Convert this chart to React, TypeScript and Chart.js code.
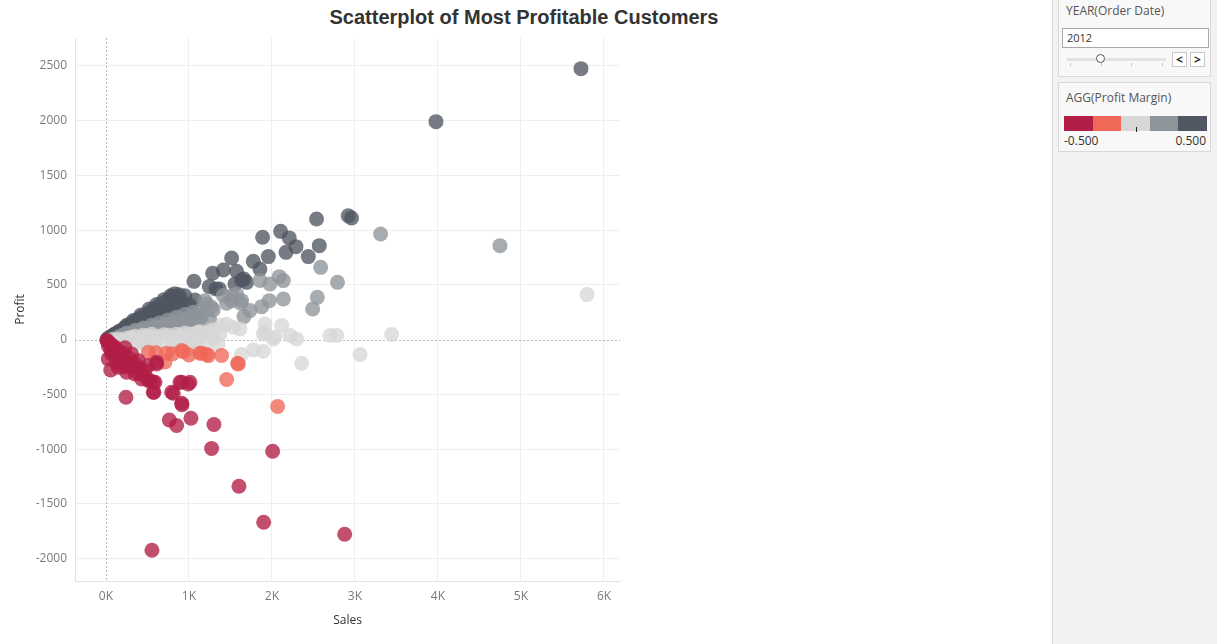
import React, { useEffect, useRef } from "react";
import { Chart, registerables, ChartConfiguration, Plugin } from "chart.js";

Chart.register(...registerables);

// axis ticks
const salesTicks = [0, 1000, 2000, 3000, 4000, 5000, 6000];
const profitTicks = [-2000, -1500, -1000, -500, 0, 500, 1000, 1500, 2000, 2500];

// profit margin colour steps (-0.5 .. 0.5, five steps)
const marginSteps = [-0.3, -0.1, 0.1, 0.3];
const marginColors = ["#b21e46", "#f06858", "#d7d7d7", "#8e959a", "#505662"];
const marginRange = ["-0.500", "0.500"];
const yearValue = "2012";

// [sales, profit] per customer
const largeCustomers: [number, number][] = [
  [5723, 2475], [3976, 1991], [4747, 858], [5795, 411], [3309, 965], [3442, 46],
  [3060, -137], [2790, 523], [2546, 386], [2490, 280], [2587, 660], [2537, 1102],
  [2919, 1132], [2959, 1111], [1887, 935], [2104, 989], [2208, 929], [2289, 849],
  [1956, 758], [2169, 797], [2438, 758], [2570, 858], [1775, 715], [1855, 645],
  [1663, 554], [2088, 575], [2137, 539], [1976, 508], [2137, 371], [1968, 356],
  [1876, 301], [1735, 265], [1634, 356], [1916, 143], [2117, 128], [2217, 37],
  [2297, 6], [2016, 6], [1916, 67], [2699, 37], [2780, 37], [2357, -216],
  [1775, -94], [1895, -107], [1634, -137],
];

const midCustomers: [number, number][] = [
  [1514, 746], [1414, 636], [1285, 606], [1060, 532], [1245, 484], [1325, 463],
  [1634, 545], [1695, 523], [1554, 508], [1855, 540], [1574, 624], [1365, 463],
  [892, 386], [1072, 362], [1213, 326], [1293, 271], [1133, 219], [972, 158],
  [1253, 174], [1414, 402], [1574, 417], [1514, 356], [1623, 332], [1663, 210],
  [1454, 332], [1522, 402], [1193, 356], [1273, 295],
  [1454, 140], [1534, 113], [1614, 98], [1895, 52], [2036, 21], [1373, 52],
  [1253, 82], [1133, 67], [1012, 52], [892, 37], [1112, 67], [1393, 130],
];

const lossCustomers: [number, number][] = [
  [931, -110], [1133, -125], [1213, -135], [1393, -145], [1586, -216], [1454, -365],
  [2068, -610], [1233, -146], [1152, -125], [912, -100], [731, -125], [711, -205],
  [510, -116], [1594, -222], [600, -120], [800, -130], [1000, -140],
  [2008, -1020], [1273, -995], [1301, -776], [1602, -1340], [1900, -1668], [2876, -1778],
  [554, -1924], [241, -527], [763, -734], [851, -785], [1024, -719], [916, -594],
  [811, -490], [911, -390], [992, -405], [1012, -390], [578, -481], [530, -374],
  [590, -390], [611, -222], [57, -277], [68, -131], [189, -161], [310, -131],
  [389, -192], [269, -222], [148, -253], [249, -298], [349, -313], [470, -283],
  [510, -237], [610, -207], [430, -359], [510, -374], [570, -390], [570, -481],
  [791, -481], [892, -390], [912, -582], [28, -176], [108, -70], [229, -75], [10, -8],
  [20, -15], [40, -30], [60, -45], [80, -60], [100, -80], [120, -95], [140, -110],
  [90, -120], [130, -150], [170, -130], [200, -180], [160, -200], [120, -210],
  [210, -250], [250, -200], [300, -250], [280, -170], [350, -220], [400, -260],
  [380, -300], [440, -320], [200, -120], [60, -90], [30, -60],
];

const breakEvenCustomers: [number, number][] = [
  [80, 2], [150, 5], [200, -5], [250, 10], [300, -10], [350, 15], [400, 0], [450, 20],
  [500, -15], [550, 25], [600, 5], [650, 30], [700, -20], [750, 40], [800, 10],
  [850, 50], [900, -30], [950, 60], [1000, 20], [1050, -20], [1100, 60], [1150, 30],
  [1200, -40], [1250, 60], [1300, 10], [1350, -40], [600, -45], [800, -60],
  [1000, -80], [450, -35], [300, 20], [700, 45], [1100, -60], [1300, 90],
  [350, 30], [450, 40], [550, 50], [500, 30], [900, 20], [400, -25], [1050, 50],
];

const profitableCustomers: [number, number][] = [
  // upper margin band
  [15, 6], [30, 13], [45, 19], [60, 26], [75, 33], [90, 38], [105, 45], [120, 52],
  [135, 57], [150, 65], [165, 70], [180, 78], [195, 83], [210, 90], [225, 96],
  [240, 104], [255, 109], [270, 116], [285, 121], [300, 130], [320, 136], [340, 146],
  [360, 153], [380, 164], [400, 171], [420, 180], [440, 188], [460, 197], [480, 206],
  [500, 214], [520, 223], [540, 231], [560, 240], [580, 249], [600, 256], [620, 266],
  [640, 275], [660, 283], [680, 291], [700, 300], [720, 310], [740, 318], [760, 326],
  [780, 335], [800, 345], [820, 355], [840, 368], [860, 392], [880, 410], [830, 420],
  [800, 395], [760, 370], [700, 340], [640, 312], [580, 280], [520, 250], [460, 222],
  [400, 194], [340, 165], [280, 136], [220, 106], [160, 77], [100, 48],
  [120, 40], [180, 58], [240, 78], [300, 98], [360, 116], [420, 134], [480, 152],
  [540, 170], [600, 190], [660, 208], [720, 226], [780, 245], [840, 265], [900, 283],
  [960, 300], [1000, 320], [700, 260], [620, 230], [540, 200], [460, 170], [380, 140],
  [300, 112], [220, 84], [950, 400], [900, 340],
  [250, 130], [330, 175], [420, 225], [520, 280], [610, 320], [700, 365], [780, 400],
  // lower margin band
  [150, 25], [200, 40], [250, 48], [300, 60], [350, 62], [400, 80], [450, 75],
  [500, 100], [550, 95], [600, 120], [650, 110], [700, 140], [750, 130], [800, 160],
  [850, 150], [900, 185], [950, 170], [1000, 200], [1050, 190], [1100, 230], [1150, 210],
  [250, 60], [350, 85], [450, 105], [550, 130], [650, 155], [750, 180], [850, 205],
  [950, 230], [1050, 250], [1150, 270], [300, 45], [400, 55], [500, 70], [600, 80],
  [700, 90], [800, 100], [900, 115], [1000, 125], [1100, 140],
];

const allCustomers = [
  ...profitableCustomers,
  ...midCustomers,
  ...largeCustomers,
  ...breakEvenCustomers,
  ...lossCustomers,
];

function marginStep(sales: number, profit: number) {
  const m = profit / sales;
  let i = 0;
  while (i < marginSteps.length && m >= marginSteps[i]) i++;
  return i;
}

function withAlpha(hex: string, a: number) {
  const n = parseInt(hex.slice(1), 16);
  return `rgba(${(n >> 16) & 255}, ${(n >> 8) & 255}, ${n & 255}, ${a})`;
}

// dark (bottom) ... crimson (top); lower order is drawn later
const drawOrder = [0, 1, 2, 3, 4];

const zeroLines: Plugin<"scatter"> = {
  id: "zeroLines",
  beforeDatasetsDraw(chart) {
    const { ctx, chartArea, scales } = chart;
    const x0 = Math.round(scales.x.getPixelForValue(0)) + 0.5;
    const y0 = Math.round(scales.y.getPixelForValue(0)) + 0.5;
    ctx.save();
    ctx.strokeStyle = "#b8b8b8";
    ctx.lineWidth = 1;
    ctx.setLineDash([2, 2]);
    ctx.beginPath();
    ctx.moveTo(x0, chartArea.top);
    ctx.lineTo(x0, chartArea.bottom);
    ctx.moveTo(chartArea.left, y0);
    ctx.lineTo(chartArea.right, y0);
    ctx.stroke();
    ctx.restore();
  },
};

function ScatterChart() {
  const canvasRef = useRef<HTMLCanvasElement | null>(null);
  const chartRef = useRef<Chart<"scatter"> | null>(null);

  useEffect(() => {
    if (!canvasRef.current) return;
    chartRef.current?.destroy();

    const datasets = marginColors.map((color, i) => ({
      label: `step ${i}`,
      data: allCustomers
        .filter(([s, p]) => marginStep(s, p) === i)
        .map(([s, p]) => ({ x: s, y: p })),
      backgroundColor: withAlpha(color, 0.78),
      borderWidth: 0,
      pointRadius: 7.5,
      pointHoverRadius: 7.5,
      order: drawOrder[i],
    }));

    const tickFont = { family: "'Open Sans', sans-serif", size: 12 };
    const gridColor = (c: any) =>
      c.tick && c.tick.value === 0 ? "rgba(0,0,0,0)" : "#eeeeee";

    const config: ChartConfiguration<"scatter"> = {
      type: "scatter",
      data: { datasets },
      options: {
        responsive: false,
        animation: false,
        events: [],
        layout: { padding: { top: 38, right: 20, left: 0, bottom: 0 } },
        plugins: { legend: { display: false }, tooltip: { enabled: false } },
        scales: {
          x: {
            type: "linear",
            min: -373,
            max: 6193,
            afterBuildTicks: (scale) => {
              scale.ticks = salesTicks.map((v) => ({ value: v }));
            },
            afterFit: (scale) => {
              scale.height = 63;
            },
            ticks: {
              font: tickFont,
              color: "#7a7a7a",
              padding: 8,
              callback: (v) => `${Number(v) / 1000}K`,
            },
            grid: { color: gridColor, drawTicks: false },
            border: { display: true, color: "#e3e3e3" },
            title: {
              display: true,
              text: "Sales",
              color: "#333333",
              font: tickFont,
              padding: { top: 0, bottom: 16 },
            },
          },
          y: {
            type: "linear",
            min: -2205,
            max: 2755,
            afterBuildTicks: (scale) => {
              scale.ticks = profitTicks.map((v) => ({ value: v }));
            },
            afterFit: (scale) => {
              scale.width = 75;
            },
            ticks: {
              font: tickFont,
              color: "#7a7a7a",
              padding: 8,
              callback: (v) => String(v),
            },
            grid: { color: gridColor, drawTicks: false },
            border: { display: true, color: "#e3e3e3" },
            title: {
              display: true,
              text: "Profit",
              color: "#333333",
              font: tickFont,
              padding: { top: 13, bottom: 0 },
            },
          },
        },
      },
      plugins: [zeroLines],
    };

    chartRef.current = new Chart(canvasRef.current, config);
    return () => {
      chartRef.current?.destroy();
      chartRef.current = null;
    };
  }, []);

  return (
    <canvas
      ref={canvasRef}
      width={640}
      height={644}
      style={{ position: "absolute", left: 0, top: 0, width: 640, height: 644 }}
    />
  );
}

const panelFont = "'Open Sans', 'Noto Sans', sans-serif";

function SidePanel() {
  const box: React.CSSProperties = {
    position: "absolute",
    left: 5,
    width: 153,
    border: "1px solid #d8d8d8",
    background: "#f8f8f8",
    boxSizing: "border-box",
  };
  const label: React.CSSProperties = {
    position: "absolute",
    left: 7,
    fontSize: 12,
    color: "#555555",
    whiteSpace: "nowrap",
    lineHeight: "16px",
  };
  const btn: React.CSSProperties = {
    position: "absolute",
    top: 52,
    width: 15,
    height: 15,
    border: "1px solid #c8c8c8",
    background: "#ffffff",
    boxSizing: "border-box",
    fontSize: 12,
    fontWeight: 700,
    lineHeight: "13px",
    textAlign: "center",
    color: "#222222",
  };
  return (
    <div
      style={{
        position: "absolute",
        left: 1052,
        top: 0,
        width: 165,
        height: 644,
        background: "#f2f2f2",
        borderLeft: "1px solid #d6d6d6",
        boxSizing: "border-box",
        fontFamily: panelFont,
      }}
    >
      <div style={{ ...box, top: -1, height: 78 }}>
        <div style={{ ...label, top: 3 }}>YEAR(Order Date)</div>
        <div
          style={{
            position: "absolute",
            left: 3,
            top: 28,
            width: 147,
            height: 20,
            background: "#ffffff",
            border: "1px solid #a9a9a9",
            boxSizing: "border-box",
            fontSize: 11,
            lineHeight: "18px",
            paddingLeft: 4,
            color: "#333333",
          }}
        >
          {yearValue}
        </div>
        <div
          style={{
            position: "absolute",
            left: 8,
            top: 58,
            width: 99,
            height: 3,
            background: "#e2e2e2",
          }}
        />
        {[11, 42, 72, 103].map((x) => (
          <div
            key={x}
            style={{
              position: "absolute",
              left: x,
              top: 63,
              width: 1,
              height: 3,
              background: "#c8c8c8",
            }}
          />
        ))}
        <div
          style={{
            position: "absolute",
            left: 37,
            top: 54,
            width: 9,
            height: 9,
            borderRadius: "50%",
            background: "#ffffff",
            border: "1px solid #555555",
            boxSizing: "border-box",
          }}
        />
        <div style={{ ...btn, left: 113 }}>&lt;</div>
        <div style={{ ...btn, left: 131 }}>&gt;</div>
      </div>
      <div style={{ ...box, top: 82, height: 70 }}>
        <div style={{ ...label, top: 7 }}>AGG(Profit Margin)</div>
        <div
          style={{
            position: "absolute",
            left: 5,
            top: 33,
            width: 143,
            height: 15,
            display: "flex",
          }}
        >
          {marginColors.map((c) => (
            <div key={c} style={{ flex: 1, background: c }} />
          ))}
        </div>
        <div
          style={{
            position: "absolute",
            left: 77,
            top: 44,
            width: 1,
            height: 5,
            background: "#222222",
          }}
        />
        <div style={{ ...label, left: 5, top: 50, color: "#333333" }}>{marginRange[0]}</div>
        <div
          style={{
            ...label,
            left: "auto",
            right: 4,
            top: 50,
            color: "#333333",
          }}
        >
          {marginRange[1]}
        </div>
      </div>
    </div>
  );
}

export default function App() {
  return (
    <div
      style={{
        position: "absolute",
        left: 0,
        top: 0,
        width: 1217,
        height: 644,
        overflow: "hidden",
        background: "#ffffff",
      }}
    >
      <div
        style={{
          position: "absolute",
          left: 0,
          top: 4,
          width: 1048,
          textAlign: "center",
          fontFamily: "'Liberation Sans', Arial, sans-serif",
          fontWeight: 700,
          fontSize: 20,
          lineHeight: "26px",
          color: "#333333",
        }}
      >
        Scatterplot of Most Profitable Customers
      </div>
      <ScatterChart />
      <SidePanel />
    </div>
  );
}
